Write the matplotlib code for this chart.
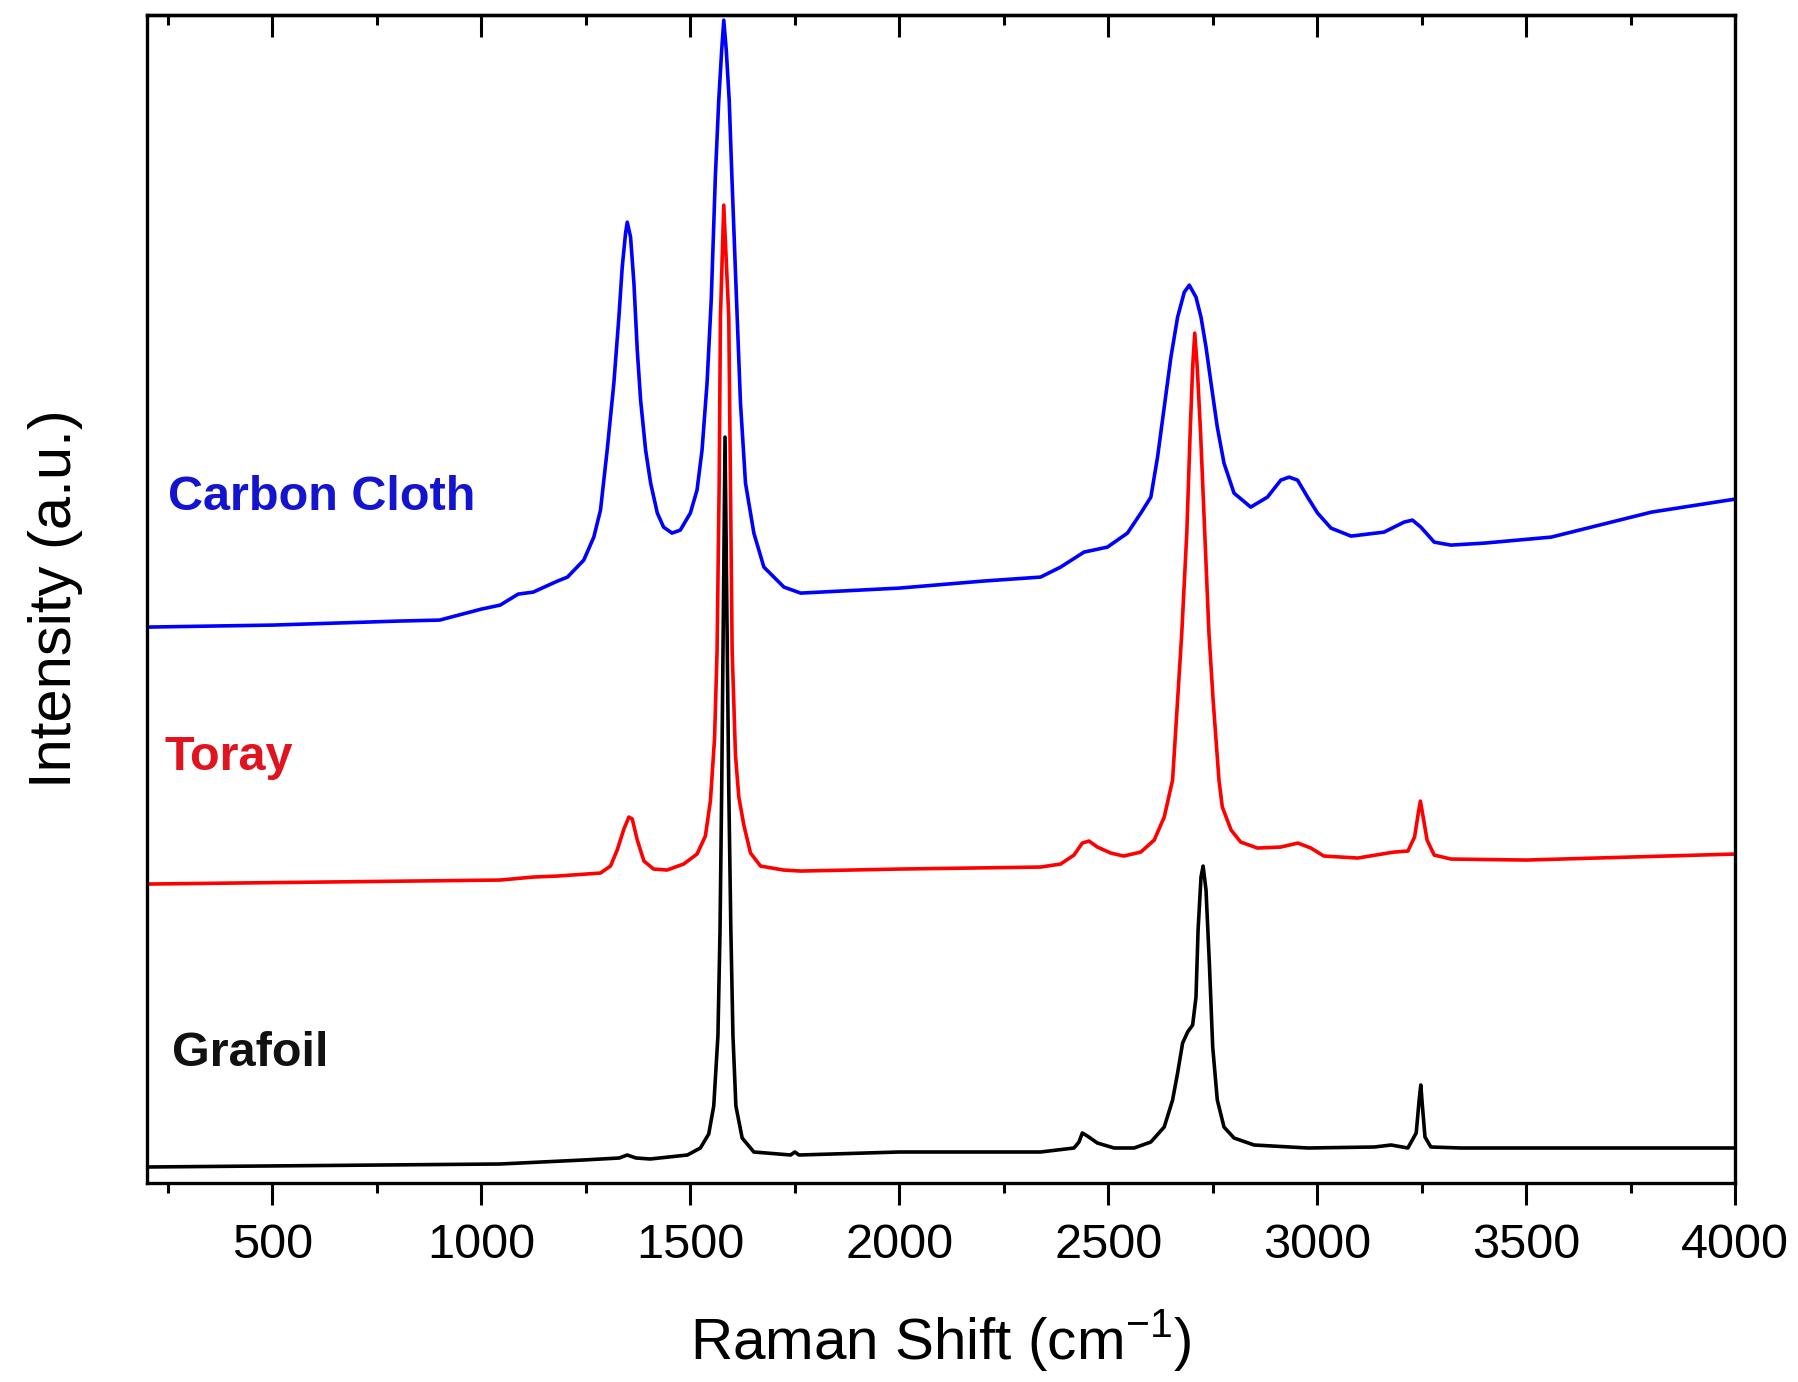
import matplotlib
matplotlib.use("Agg")
import matplotlib.pyplot as plt
from matplotlib.ticker import MultipleLocator

plt.rcParams['font.family'] = ['Liberation Sans', 'DejaVu Sans']
plt.rcParams['mathtext.fontset'] = 'custom'
plt.rcParams['mathtext.rm'] = 'Liberation Sans'

# Raman shift (cm-1) and intensity (a.u.)
cloth_x = [200, 500, 800, 900, 1000, 1045, 1088, 1124, 1182, 1206, 1245, 1269, 1285,
           1301, 1317, 1329, 1337, 1345, 1349, 1357, 1365, 1373, 1381, 1393, 1405,
           1421, 1436, 1456, 1476, 1500, 1516, 1528, 1540, 1550, 1560, 1568, 1575,
           1580, 1586, 1593, 1600, 1609, 1620, 1632, 1652, 1676, 1724, 1764, 2000,
           2200, 2338, 2386, 2442, 2498, 2546, 2578, 2602, 2618, 2634, 2650, 2666,
           2682, 2694, 2710, 2722, 2734, 2746, 2761, 2777, 2801, 2841, 2881, 2913,
           2933, 2953, 2977, 3001, 3033, 3081, 3160, 3208, 3228, 3248, 3280, 3320,
           3400, 3560, 3800, 4000]
cloth_y = [556, 558, 562, 563, 574, 578, 589, 591, 602, 606, 623, 646, 673,
           733, 800, 866, 916, 950, 961, 946, 900, 833, 783, 733, 700,
           670, 656, 650, 653, 670, 693, 733, 800, 883, 1008, 1083, 1133,
           1163, 1133, 1083, 1000, 900, 780, 700, 650, 616, 596, 590, 595,
           602, 606, 616, 631, 636, 650, 670, 686, 726, 776, 826, 866,
           891, 898, 886, 866, 836, 800, 756, 720, 690, 676, 686, 703,
           706, 703, 686, 670, 655, 647, 651, 661, 663, 656, 641, 638,
           640, 646, 671, 684]

toray_x = [200, 1045, 1124, 1182, 1285, 1309, 1325, 1341, 1353, 1361, 1373, 1389,
           1412, 1444, 1484, 1516, 1536, 1548, 1558, 1564, 1569, 1572, 1580, 1592,
           1596, 1600, 1608, 1616, 1628, 1644, 1668, 1723, 1764, 2000, 2338, 2386,
           2418, 2438, 2454, 2474, 2506, 2537, 2578, 2610, 2634, 2654, 2666, 2676,
           2688, 2696, 2702, 2707, 2713, 2721, 2731, 2741, 2751, 2765, 2773, 2794,
           2817, 2857, 2913, 2954, 2985, 3016, 3097, 3169, 3185, 3217, 3233, 3242,
           3247, 3252, 3263, 3280, 3320, 3500, 4000]
toray_y = [299, 303, 306, 307, 310, 317, 333, 354, 366, 364, 343, 322,
           314, 313, 319, 329, 347, 382, 445, 533, 700, 866, 978, 866,
           700, 533, 428, 386, 358, 330, 317, 313, 312, 314, 316, 319,
           328, 340, 342, 336, 330, 327, 331, 343, 366, 403, 483, 550,
           650, 750, 816, 850, 816, 750, 650, 550, 483, 403, 376, 353,
           341, 335, 336, 340, 335, 327, 325, 330, 331, 332, 346, 370,
           382, 370, 343, 328, 324, 323, 329]

grafoil_x = [200, 1045, 1244, 1330, 1349, 1370, 1404, 1493, 1524, 1544, 1556, 1566,
             1571, 1575, 1583, 1592, 1597, 1602, 1609, 1624, 1652, 1740, 1750, 1760,
             2000, 2338, 2418, 2430, 2438, 2450, 2474, 2514, 2562, 2602, 2634, 2654,
             2666, 2678, 2690, 2702, 2710, 2715, 2722, 2727, 2734, 2742, 2750, 2761,
             2777, 2801, 2849, 2978, 3137, 3177, 3217, 3237, 3244, 3248, 3252, 3258,
             3272, 3344, 4000]
grafoil_y = [16, 19, 23, 25, 28, 25, 24, 28, 35, 49, 77, 147,
             252, 393, 746, 393, 252, 147, 77, 45, 31, 28, 31, 28,
             31, 31, 35, 41, 50, 47, 40, 35, 35, 41, 56, 83,
             110, 140, 151, 158, 186, 253, 306, 317, 293, 220, 136, 83,
             56, 45, 38, 35, 36, 38, 35, 50, 83, 98, 76, 46,
             36, 35, 35]

labels = ['Carbon Cloth', 'Toray', 'Grafoil']
colors = ['#0000ff', '#ff0000', '#000000']
text_colors = ['#1414d0', '#e0141e', '#111111']

fig = plt.figure(figsize=(17.98, 13.82), dpi=100)
ax = fig.add_axes([0.0818, 0.144, 0.965 - 0.0818, 0.989 - 0.144])

ax.plot(cloth_x, cloth_y, color=colors[0], lw=2.6)
ax.plot(toray_x, toray_y, color=colors[1], lw=2.6)
ax.plot(grafoil_x, grafoil_y, color=colors[2], lw=2.6)

ax.set_xlim(200, 4000)
ax.set_ylim(0, 1168)
ax.set_yticks([])

ax.xaxis.set_major_locator(MultipleLocator(500))
ax.xaxis.set_minor_locator(MultipleLocator(250))
ax.tick_params(axis='x', which='major', direction='out', length=16, width=2.2,
               labelsize=35, pad=13)
ax.tick_params(axis='x', which='minor', direction='out', length=7, width=2.2)

top = ax.secondary_xaxis('top')
top.xaxis.set_major_locator(MultipleLocator(500))
top.xaxis.set_minor_locator(MultipleLocator(250))
top.tick_params(axis='x', which='major', direction='in', length=16, width=2.2, labeltop=False)
top.tick_params(axis='x', which='minor', direction='in', length=7, width=2.2)
top.spines['top'].set_linewidth(2.4)

for s in ax.spines.values():
    s.set_linewidth(2.4)

ax.set_xlabel(r'Raman Shift (cm$^{\mathregular{-1}}$)', fontsize=42, labelpad=28)
ax.set_ylabel('Intensity (a.u.)', fontsize=43, labelpad=46)

# curve names
ax.text(0.013, 0.587, labels[0], transform=ax.transAxes, color=text_colors[0],
        fontsize=35, fontweight='bold', va='center')
ax.text(0.011, 0.364, labels[1], transform=ax.transAxes, color=text_colors[1],
        fontsize=35, fontweight='bold', va='center')
ax.text(0.016, 0.111, labels[2], transform=ax.transAxes, color=text_colors[2],
        fontsize=35, fontweight='bold', va='center')

fig.savefig('out.png', dpi=100)
